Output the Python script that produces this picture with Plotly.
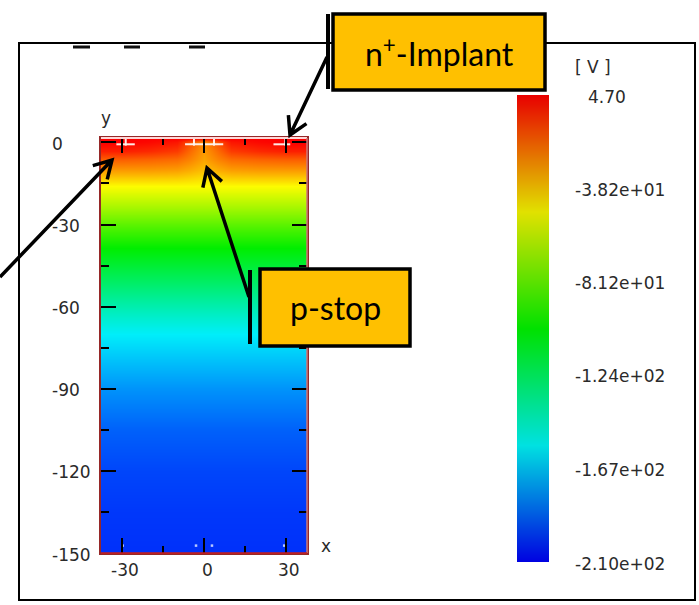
import math
import plotly.graph_objects as go

W, H = 699, 605

# ---- potential map (V) -------------------------------------------------
# lateral sampling positions (um)
lateral_x = [-37.5, -30, -20, -10, -5, 0, 5, 10, 20, 30, 37.5]
# near-surface rows: depth (um) and potential across lateral_x
surface_y = [1.6, 0, -3, -6, -10]
surface_v = [
    [4.7, 4.7, 4.7, 4.7, 4.7, 4.7, 4.7, 4.7, 4.7, 4.7, 4.7],
    [4.7, 4.7, 3.0, 0.0, -12.0, -25.0, -12.0, 0.0, 3.0, 4.7, 4.7],
    [-2.0, -2.0, -4.0, -8.0, -18.0, -28.0, -18.0, -8.0, -4.0, -2.0, -2.0],
    [-15.0, -15.0, -16.0, -18.0, -23.0, -30.0, -23.0, -18.0, -16.0, -15.0, -15.0],
    [-28.0, -28.0, -28.0, -29.0, -32.0, -36.0, -32.0, -29.0, -28.0, -28.0, -28.0],
]
# bulk depth profile (laterally uniform)
depth_y = [-16, -24, -31, -38.5, -46, -54, -62, -70, -80, -90, -105, -120, -135, -150]
depth_v = [-49.0, -68.0, -85.5, -102.7, -115.5, -129.5, -143.5, -156.3,
           -167.0, -177.8, -189.6, -196.0, -199.3, -201.0]

# electrode outlines at the surface (um)
electrode_spans = [(-31.9, -25.2), (-6.9, 7.0), (25.3, 31.4)]
electrode_marks = [-28.5, -3.65, 3.65, 29.6]
# backside contact points
back_dots_x = [-29.6, -2.9, 2.9, 29.2]
back_dots_y = [-147.3, -147.3, -147.3, -147.3]

# axis ticks
x_ticks = [-30, 0, 30]
x_minor = [-15, 15]
y_ticks = [0, -30, -60, -90, -120, -150]
y_minor = [-15, -45, -75, -105, -135]

# colour legend
v_min, v_max = -210.0, 4.70
cbar_values = [4.70, -38.2, -81.2, -124.0, -167.0, -210.0]
cbar_labels = ["4.70", "-3.82e+01", "-8.12e+01", "-1.24e+02", "-1.67e+02", "-2.10e+02"]

map_scale = [[0.0, "rgb(0,10,250)"], [0.25, "rgb(0,238,250)"], [0.5, "rgb(0,238,0)"],
             [0.75, "rgb(252,252,0)"], [1.0, "rgb(252,0,0)"]]
bar_scale = [[0.0, "rgb(0,0,225)"], [0.25, "rgb(0,225,225)"], [0.5, "rgb(0,225,0)"],
             [0.75, "rgb(225,225,0)"], [1.0, "rgb(232,0,0)"]]

# ---- assemble grid ------------------------------------------------------
grid_y = surface_y + depth_y
grid_z = [list(r) for r in surface_v] + [[v] * len(lateral_x) for v in depth_v]
grid_y = grid_y[::-1]
grid_z = grid_z[::-1]

fig = go.Figure()
fig.add_trace(go.Heatmap(x=lateral_x, y=grid_y, z=grid_z, zmin=v_min, zmax=v_max,
                         colorscale=map_scale, zsmooth="best", showscale=False,
                         hoverinfo="skip"))

# electrode outlines
seg_x, seg_y = [], []
for a, b in electrode_spans:
    seg_x += [a, b, None]
    seg_y += [-0.7, -0.7, None]
for m in electrode_marks:
    seg_x += [m, m, None]
    seg_y += [1.6, -1.2, None]
fig.add_trace(go.Scatter(x=seg_x, y=seg_y, mode="lines",
                         line=dict(color="rgba(255,245,240,0.95)", width=2),
                         hoverinfo="skip"))
fig.add_trace(go.Scatter(x=back_dots_x, y=back_dots_y, mode="markers",
                         marker=dict(symbol="square", size=2.5, color="rgb(185,200,255)"),
                         hoverinfo="skip"))

# colour bar drawn as its own strip
cb_y = cbar_values[::-1]
fig.add_trace(go.Heatmap(x=[0, 1], y=cb_y, z=[[v, v] for v in cb_y], zmin=v_min, zmax=v_max,
                         colorscale=bar_scale, zsmooth="best", showscale=False,
                         xaxis="x2", yaxis="y2", hoverinfo="skip"))


def px(x, y):
    return x / W, 1 - y / H


common_axis = dict(showgrid=False, zeroline=False, showline=True, linecolor="rgb(150,40,40)",
                   linewidth=1.5, mirror="ticks", ticks="inside", ticklen=15, tickwidth=2,
                   tickcolor="black", showticklabels=False, tickmode="array")

fig.update_layout(
    width=W, height=H, margin=dict(l=0, r=0, t=0, b=0),
    paper_bgcolor="white", plot_bgcolor="white", showlegend=False,
    xaxis=dict(domain=[101 / W, 307 / W], range=[-37.5, 37.5], tickvals=x_ticks,
               minor=dict(tickvals=x_minor, ticks="inside", ticklen=7, tickwidth=2,
                          tickcolor="black"), **common_axis),
    yaxis=dict(domain=[1 - 553 / H, 1 - 138 / H], range=[-150, 1.6], tickvals=y_ticks,
               minor=dict(tickvals=y_minor, ticks="inside", ticklen=8, tickwidth=2,
                          tickcolor="black"), **common_axis),
    xaxis2=dict(domain=[517 / W, 549 / W], range=[0, 1], visible=False, anchor="y2"),
    yaxis2=dict(domain=[1 - 562 / H, 1 - 95 / H], range=[v_min, v_max], visible=False,
                anchor="x2"),
)

shapes = []
# outer frame
x0, y0 = px(19, 600)
x1, y1 = px(695, 43)
shapes.append(dict(type="rect", xref="paper", yref="paper", x0=x0, y0=y0, x1=x1, y1=y1,
                   line=dict(color="black", width=2), fillcolor="rgba(0,0,0,0)"))
# lighter upper / right edges of the device region
shapes.append(dict(type="line", xref="x domain", yref="y domain", x0=0, x1=1, y0=1, y1=1,
                   line=dict(color="rgb(255,215,215)", width=2)))
shapes.append(dict(type="line", xref="x domain", yref="y domain", x0=1, x1=1, y0=0, y1=1,
                   line=dict(color="rgb(205,120,120)", width=1.5)))
shapes.append(dict(type="line", xref="x domain", yref="y domain", x0=0, x1=1, y0=0, y1=0,
                   line=dict(color="rgb(200,30,30)", width=1.5)))
# clipped heading strokes
for a, b in [(73, 90), (124, 140), (189, 205)]:
    xa, ya = px(a, 47)
    xb, _ = px(b, 47)
    shapes.append(dict(type="line", xref="paper", yref="paper", x0=xa, x1=xb, y0=ya, y1=ya,
                       line=dict(color="#111", width=3)))


def arrow(xs, ys, xe, ye, head=20, ang=30, width=3.5):
    dx, dy = xe - xs, ye - ys
    L = math.hypot(dx, dy)
    ux, uy = dx / L, dy / L
    arms = []
    for s in (1, -1):
        a = math.radians(ang) * s
        rx = -ux * math.cos(a) + uy * math.sin(a)
        ry = -ux * math.sin(a) - uy * math.cos(a)
        arms.append((xe + head * rx, ye + head * ry))

    def p(x, y):
        X, Y = px(x, y)
        return f"{X:.5f},{Y:.5f}"

    path = (f"M{p(xs, ys)} L{p(xe, ye)} M{p(*arms[0])} L{p(xe, ye)} L{p(*arms[1])}")
    return dict(type="path", xref="paper", yref="paper", path=path,
                line=dict(color="black", width=width))


def vbar(x, ya, yb):
    X, Ya = px(x, ya)
    _, Yb = px(x, yb)
    return dict(type="line", xref="paper", yref="paper", x0=X, x1=X, y0=Ya, y1=Yb,
                line=dict(color="black", width=4))


def box(xa, ya, xb, yb):
    X0, Y0 = px(xa, yb)
    X1, Y1 = px(xb, ya)
    return dict(type="rect", xref="paper", yref="paper", x0=X0, y0=Y0, x1=X1, y1=Y1,
                line=dict(color="black", width=3.5), fillcolor="#FFC000")


shapes.append(arrow(0, 277, 112, 160))
shapes.append(vbar(328, 14, 89))
shapes.append(arrow(327, 57, 290, 135))
shapes.append(box(333, 14, 545, 90))
shapes.append(vbar(250, 270, 344))
shapes.append(arrow(249, 297, 207, 168))
shapes.append(box(260, 269, 410, 346))
fig.update_layout(shapes=shapes)

ann = []
lab_font = dict(family="DejaVu Sans", size=17, color="#2a2a2a")
for v in y_ticks:
    ann.append(dict(xref="paper", x=50 / W, xanchor="left", yref="y", y=v, yanchor="middle",
                    yshift=-1.5, text=str(v), showarrow=False, font=lab_font))
for v in x_ticks:
    ann.append(dict(xref="x", x=v, xanchor="center", yref="paper", y=1 - 570 / H,
                    yanchor="middle", xshift=3, text=str(v), showarrow=False, font=lab_font))
ann.append(dict(xref="paper", x=106 / W, xanchor="center", yref="paper", y=1 - 118 / H,
                yanchor="middle", text="y", showarrow=False, font=lab_font))
ann.append(dict(xref="paper", x=326 / W, xanchor="center", yref="paper", y=1 - 546 / H,
                yanchor="middle", text="x", showarrow=False, font=lab_font))
# colour legend labels, signs hanging in their own column
for v, t in zip(cbar_values, cbar_labels):
    xl = 573 if t.startswith("-") else 586
    ann.append(dict(xref="paper", x=xl / W, xanchor="left", yref="y2", y=v, yanchor="middle",
                    yshift=-1.5, text=t, showarrow=False, font=lab_font))
ann.append(dict(xref="paper", x=573 / W, xanchor="left", yref="paper", y=1 - 67 / H,
                yanchor="middle", text="[ V ]", showarrow=False, font=lab_font))
# callout texts
box_font = dict(family="Lato", size=32, color="black")
ann.append(dict(xref="paper", x=439 / W, yref="paper", y=1 - 52 / H, xanchor="center",
                yanchor="middle", text="n<sup>+</sup>-Implant", showarrow=False, font=box_font))
ann.append(dict(xref="paper", x=335 / W, yref="paper", y=1 - 307 / H, xanchor="center",
                yanchor="middle", text="p-stop", showarrow=False, font=box_font))
fig.update_layout(annotations=ann)

fig.write_html("out.html")
